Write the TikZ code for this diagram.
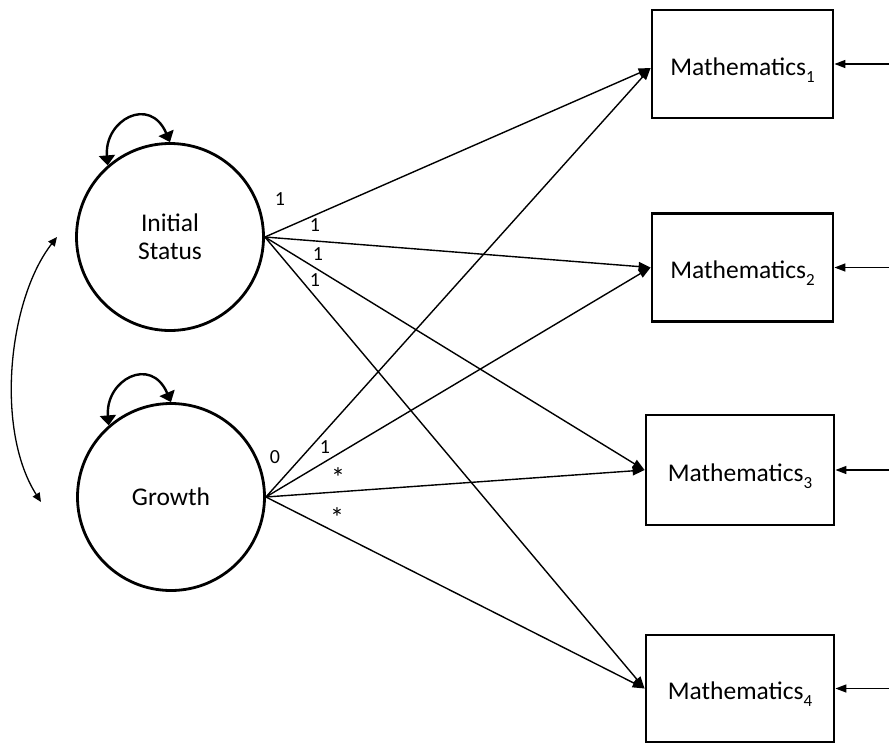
\documentclass[tikz,border=0pt]{standalone}
\usepackage{fontspec}
\setmainfont{Carlito}
\usetikzlibrary{arrows.meta}
\newcommand\msub[1]{\raisebox{-7pt}{\fontsize{17}{17}\selectfont #1}}
\begin{document}
\begin{tikzpicture}[x=1pt,y=-1pt,
  latent/.style={circle, draw, line width=2.8pt, minimum size=187pt, inner sep=0pt, align=center, font=\fontsize{25.5}{28}\selectfont},
  obs/.style={rectangle, draw, line width=2.8pt, minimum width=182pt, minimum height=108pt, inner sep=0pt, font=\fontsize{25.5}{28}\selectfont, text height=22pt, text depth=0pt},
  reg/.style={-{Triangle[length=12pt,width=9pt]}, line width=1.4pt},
  err/.style={-{Triangle[length=11pt,width=8pt]}, line width=1.4pt},
  varloop/.style={{Triangle[length=10pt,width=16pt]}-{Triangle[length=10pt,width=16pt]}, line width=2.4pt},
  cov/.style={{Triangle[length=9pt,width=8pt]}-{Triangle[length=9pt,width=8pt]}, line width=1.3pt},
  lab/.style={font=\fontsize{20}{22}\selectfont, anchor=base, inner sep=0pt},
  star/.style={font=\fontsize{28}{30}\selectfont, anchor=base, inner sep=0pt}
]
\useasboundingbox (0,0) rectangle (889,744);

\node[latent] (is) at (170,237) {Initial\\Status};
\node[latent] (gr) at (171,497) {Growth};

\node[obs, minimum width=181pt] (m1) at (742.5,64) {Mathematics\msub{1}};
\node[obs, minimum width=181pt] (m2) at (742.5,267.5) {Mathematics\msub{2}};
\node[obs, minimum width=188pt, minimum height=110pt] (m3) at (740,470) {Mathematics\msub{3}};
\node[obs, minimum width=188pt, minimum height=107pt] (m4) at (740,688.5) {Mathematics\msub{4}};

% regressions
\draw[reg] (is.east) -- ([yshift=-4pt]m1.west);
\draw[reg] (is.east) -- (m2.west);
\draw[reg] (is.east) -- (m3.west);
\draw[reg] (is.east) -- (m4.west);
\draw[reg] (gr.east) -- ([yshift=-4pt]m1.west);
\draw[reg] (gr.east) -- (m2.west);
\draw[reg] (gr.east) -- (m3.west);
\draw[reg] (gr.east) -- (m4.west);

% error arrows
\coordinate (e1) at (889,64);
\coordinate (e2) at (889,267.5);
\coordinate (e3) at (889,470);
\coordinate (e4) at (889,688.5);
\draw[err] (e1) -- (m1.east);
\draw[err] (e2) -- (m2.east);
\draw[err] (e3) -- (m3.east);
\draw[err] (e4) -- (m4.east);

% variances
\draw[varloop] (is.131) .. controls (104,120) and (150,95) .. (is.90);
\draw[varloop] (gr.131) .. controls (105,380) and (151,355) .. (gr.90);

% covariance
\coordinate (c1) at (57,237);
\coordinate (c2) at (41,502);
\draw[cov] (c1) .. controls (8,300) and (-5,430) .. (c2);

% loadings
\node[lab] (l1) at (280,205) {1};
\node[lab] (l2) at (315,231) {1};
\node[lab] (l3) at (318,260) {1};
\node[lab] (l4) at (315,286) {1};
\node[lab] (g1) at (275,463) {0};
\node[lab] (g2) at (325,453) {1};
\node[star] (g3) at (338,487) {*};
\node[star] (g4) at (337,527) {*};
\end{tikzpicture}
\end{document}
